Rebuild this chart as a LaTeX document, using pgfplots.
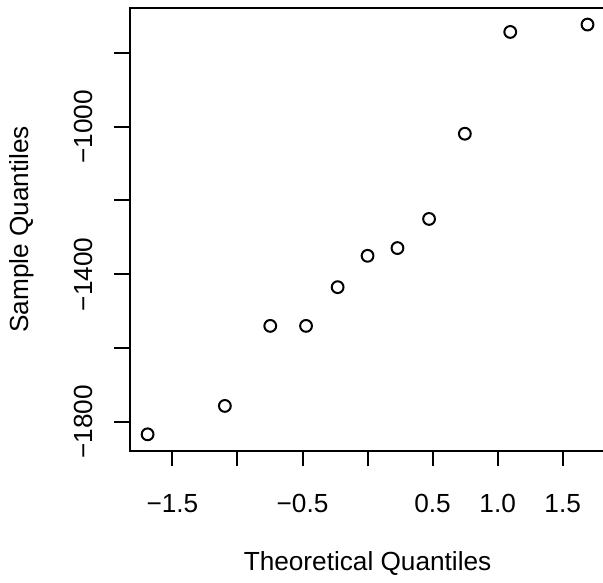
\documentclass[border=0pt]{standalone}
\usepackage{fontspec}
\setmainfont{Liberation Sans}
\usepackage{pgfplots}
\pgfplotsset{compat=1.18}
\newcommand{\rfont}{\fontsize{13.1}{15}\selectfont}
\begin{document}
\begin{tikzpicture}
  \begin{axis}[
    scale only axis,
    width=237.55pt,
    height=221.25pt,
    xmin=-1.826, xmax=1.826,
    ymin=-1878.4, ymax=-678.6,
    axis line style={line width=1pt},
    tick align=outside,
    major tick length=7.85pt,
    tick style={line width=1pt, black},
    xtick pos=bottom,
    ytick pos=left,
    xtick={-1.5,-1,-0.5,0,0.5,1,1.5},
    xticklabels={−1.5,,−0.5,,0.5,1.0,1.5},
    ytick={-1800,-1600,-1400,-1200,-1000,-800},
    yticklabels={−1800,,−1400,,−1000,},
    xticklabel style={font=\rfont, anchor=north, inner sep=0pt, yshift=-13.6pt},
    yticklabel style={font=\rfont, anchor=base, inner sep=0pt, xshift=-10.65pt, rotate=90},
    xlabel={Theoretical Quantiles},
    ylabel={Sample Quantiles},
    xlabel style={font=\rfont, inner sep=0pt, anchor=base, at={(axis description cs:0.5,-0.2698)}},
    ylabel style={font=\rfont, inner sep=0pt, anchor=base, at={(axis description cs:-0.2138,0.5)}},
  ]
    \addplot[only marks, mark=o, mark size=2.95pt, mark options={line width=1pt, black}] coordinates {
      (-1.6906,-1834)
      (-1.0968,-1757)
      (-0.7479,-1540)
      (-0.4728,-1540)
      (-0.2299,-1435)
      (0,-1350)
      (0.2299,-1329)
      (0.4728,-1250)
      (0.7479,-1019)
      (1.0968,-743)
      (1.6906,-723)
    };
  \end{axis}
  \pgfresetboundingbox
  \path[use as bounding box] (-65pt,-65.65pt) rectangle (236.5pt,225.35pt);
\end{tikzpicture}
\end{document}
